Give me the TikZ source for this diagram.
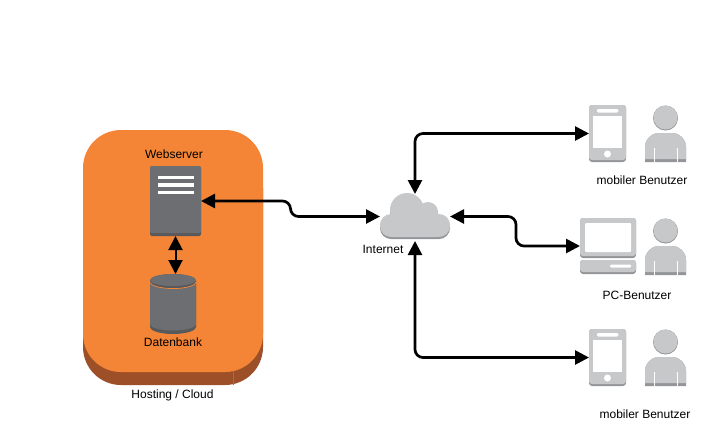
\documentclass[tikz,border=0pt]{standalone}
\usepackage{fontspec}
\setmainfont{Liberation Sans}
\usetikzlibrary{arrows.meta}
\definecolor{hostorange}{HTML}{F58536}
\definecolor{hostbrown}{HTML}{9D5027}
\definecolor{hostline}{HTML}{B0683C}
\definecolor{srvgrey}{HTML}{6D6E71}
\definecolor{srvdark}{HTML}{58595B}
\definecolor{iconlight}{HTML}{C7C8CA}
\definecolor{icondark}{HTML}{939598}
\tikzset{
	lbl/.style={font=\fontsize{12}{14}\selectfont,inner sep=0pt},
	iconbox/.style={inner sep=0pt,outer sep=0pt,minimum width=#1},
	link/.style={<->,line width=2.7pt,rounded corners=8pt}
}
\newcommand{\personicon}[1]{% top edge of the icon
	\fill[icondark] (665.5,#1+13) circle (12.5pt);
	\fill[iconlight] (665.5,#1+12.5) circle (12pt);
	\fill[icondark] (645,#1+57) -- (645,#1+42) arc[start angle=180,end angle=90,radius=14pt] -- (672,#1+28) arc[start angle=90,end angle=0,radius=14pt] -- (686,#1+57) -- cycle;
	\fill[iconlight] (645,#1+54) -- (645,#1+42) arc[start angle=180,end angle=90,radius=14pt] -- (672,#1+28) arc[start angle=90,end angle=0,radius=14pt] -- (686,#1+54) -- cycle;
	\draw[white,line width=0.6pt] (654,#1+43) -- (654,#1+57) (677,#1+43) -- (677,#1+57);
}
\newcommand{\phoneicon}[1]{%
	\fill[icondark,rounded corners=3pt] (589,#1) rectangle (626,#1+57);
	\fill[iconlight,rounded corners=3pt] (589,#1) rectangle (626,#1+55);
	\fill[white] (593,#1+11) rectangle (622,#1+43);
	\fill[white,rounded corners=1.5pt] (596.5,#1+4) rectangle (618.5,#1+7.5);
	\fill[white] (607.5,#1+49) circle (3.5pt);
}
\begin{document}
\begin{tikzpicture}[x=1pt,y=-1pt,>={Triangle[length=14pt,width=14pt]}]
	\useasboundingbox (0,0) rectangle (714,440);
	% hosting box
	\fill[hostbrown,rounded corners=38pt] (83,150) rectangle (263,385);
	\draw[hostline,line width=0.5pt] (233,371) -- (233,385);
	\fill[hostorange,rounded corners=38pt] (83,130) rectangle (263,372);
	\node[lbl] (hostlbl) at (172.5,395) {Hosting / Cloud};
	% webserver
	\node[iconbox=51pt,minimum height=70pt,fill=srvdark,rounded corners=2pt] (webserver) at (175.5,201) {};
	\fill[srvgrey,rounded corners=2pt] (150,166) rectangle (201,233);
	\foreach \y in {175.5,183,190.5}
		\fill[white] (157.5,\y) rectangle (193.5,\y+3.5);
	\node[lbl] (weblbl) at (174,154) {Webserver};
	% datenbank
	\node[iconbox=46pt,minimum height=60pt] (datenbank) at (173,304) {};
	\fill[srvdark] (150,281) -- (150,327) arc[start angle=180,end angle=360,x radius=23pt,y radius=7pt] -- (196,281) -- cycle;
	\fill[srvgrey] (150,283) -- (150,324) arc[start angle=180,end angle=360,x radius=23pt,y radius=6.5pt] -- (196,283) -- cycle;
	\draw[hostorange,line width=0.8pt] (150,282) arc[start angle=180,end angle=360,x radius=23pt,y radius=6.5pt];
	\fill[srvdark] (173,281) ellipse (23pt and 7pt);
	\fill[srvgrey] (173,280) ellipse (23pt and 6pt);
	\node[lbl] (dblbl) at (173,342) {Datenbank};
	% internet
	\node[iconbox=70pt,minimum height=45pt] (internet) at (415,216.5) {};
	\foreach \dy/\col in {2/icondark,0/iconlight}{
		\fill[\col] (407,210+\dy) circle (17pt);
		\fill[\col] (428,212+\dy) circle (10pt);
		\fill[\col,rounded corners=11pt] (380,214+\dy) rectangle (450,237+\dy);
	}
	\node[lbl] (netlbl) at (383,249) {Internet};
	% clients
	\node[iconbox=37pt,minimum height=57pt] (phoneA) at (607.5,133.5) {};
	\phoneicon{105}
	\personicon{105}
	\node[lbl] (phoneAlbl) at (642,180) {mobiler Benutzer};
	\node[iconbox=56pt,minimum height=56pt] (pc) at (608,246) {};
	\fill[icondark,rounded corners=3pt] (580,218) rectangle (636,258);
	\fill[iconlight,rounded corners=3pt] (580,218) rectangle (636,256);
	\fill[white,rounded corners=1pt] (585,223) rectangle (631,252);
	\fill[icondark,rounded corners=3pt] (580,260) rectangle (636,274);
	\fill[iconlight,rounded corners=3pt] (580,260) rectangle (636,272);
	\fill[white,rounded corners=1pt] (610,264.5) rectangle (631,267.5);
	\personicon{218}
	\node[lbl] (pclbl) at (637,295) {PC-Benutzer};
	\node[iconbox=37pt,minimum height=57pt] (phoneB) at (607.5,357.5) {};
	\phoneicon{329}
	\personicon{329}
	\node[lbl] (phoneBlbl) at (645,414) {mobiler Benutzer};
	% connections
	\draw[link] (webserver.east) -- (290.5,201) -- (290.5,216.5) -- (internet.west);
	\draw[link] (internet.east) -- (516,216.5) -- (516,246) -- (pc.west);
	\draw[link] (internet.north) -- (415,133.5) -- (phoneA.west);
	\draw[link] (internet.south) ++(0,2) -- (415,357.5) -- (phoneB.west);
	\draw[<->,line width=2pt] (webserver.south) -- (webserver.south |- datenbank.north);
\end{tikzpicture}
\end{document}
